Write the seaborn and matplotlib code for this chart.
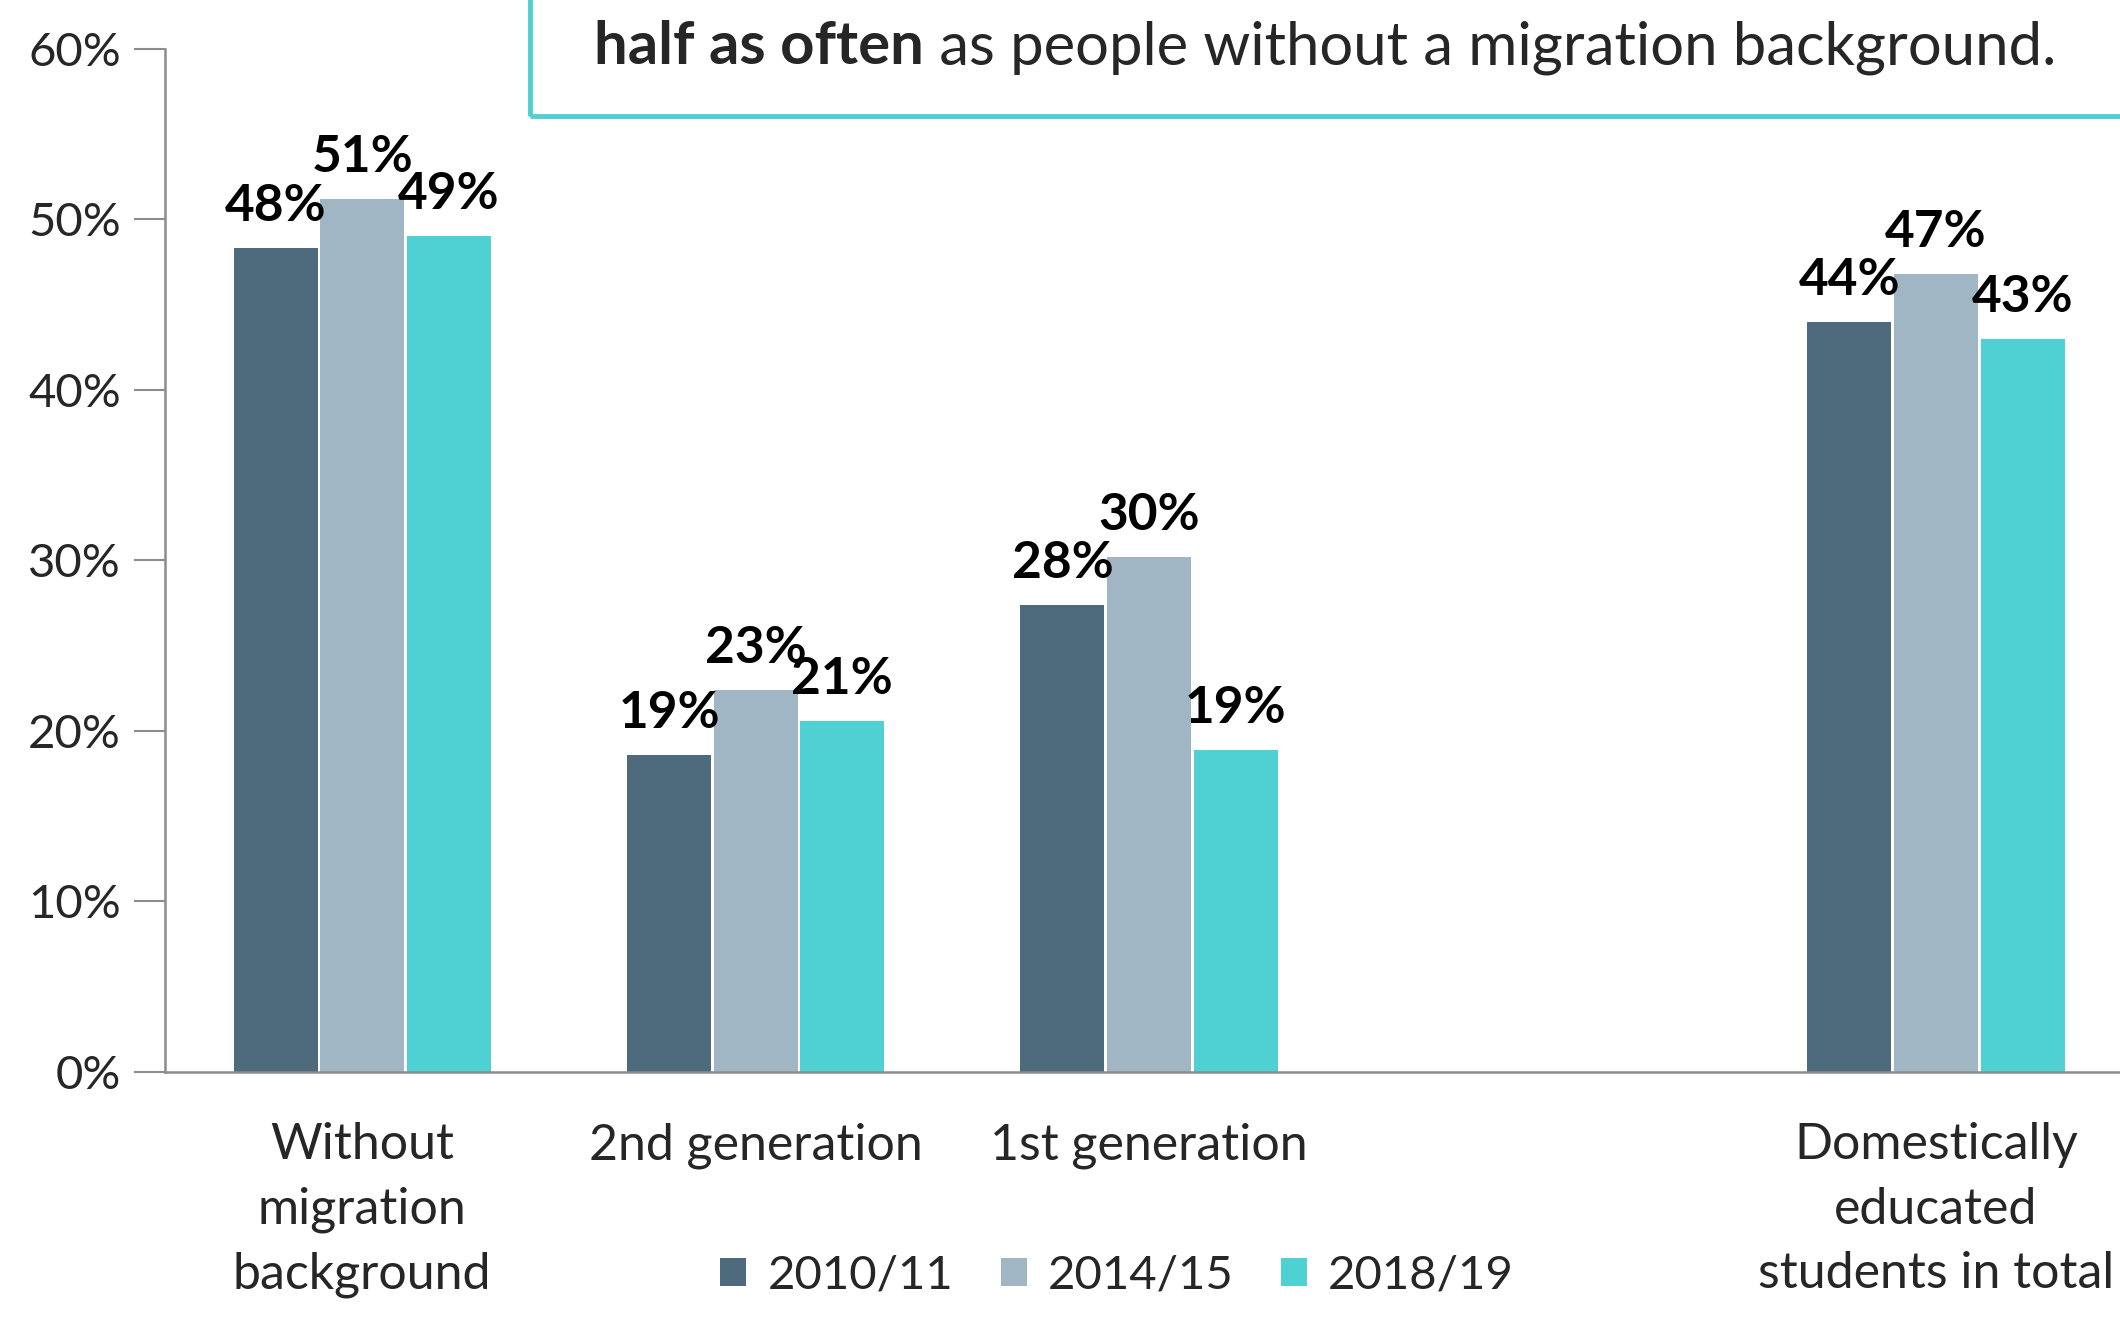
import matplotlib
matplotlib.use("Agg")
import matplotlib.pyplot as plt
import seaborn as sns
import pandas as pd
from matplotlib.patches import Rectangle

categories = ["Without\nmigration\nbackground", "2nd generation", "1st generation", " ", "Domestically\neducated\nstudents in total"]
years = ["2010/11", "2014/15", "2018/19"]
without_bg = [48.3, 51.2, 49.0]
second_gen = [18.6, 22.4, 20.6]
first_gen = [27.4, 30.2, 18.9]
domestic = [44.0, 46.8, 43.0]
labels_without = ["48%", "51%", "49%"]
labels_second = ["19%", "23%", "21%"]
labels_first = ["28%", "30%", "19%"]
labels_domestic = ["44%", "47%", "43%"]
colors = ["#4E6A7D", "#A1B6C4", "#4FD0D2"]

rows = []
for cat, vals, labs in [(categories[0], without_bg, labels_without),
                        (categories[1], second_gen, labels_second),
                        (categories[2], first_gen, labels_first),
                        (categories[4], domestic, labels_domestic)]:
    for y, v, l in zip(years, vals, labs):
        rows.append({"cat": cat, "year": y, "value": v, "label": l})
df = pd.DataFrame(rows)

sns.set_theme(style="white")
plt.rcParams["font.family"] = ["Lato", "DejaVu Sans"]

fig = plt.figure(figsize=(21.2, 13.17), dpi=100)
ax = fig.add_axes([0.078, 0.186, 0.928, 0.777])

sns.barplot(data=df, x="cat", y="value", hue="year", order=categories, hue_order=years,
            palette=colors, width=0.66, gap=0.03, ax=ax, legend=True, saturation=1,
            edgecolor="none")

# data labels
for container, year in zip(ax.containers, years):
    sub = df[df["year"] == year].set_index("cat")
    cats_present = [c for c in categories if c in sub.index]
    ax.bar_label(container, labels=[sub.loc[c, "label"] for c in cats_present],
                 padding=13, fontsize=37, fontweight="bold", color="black")

ax.set_ylim(0, 60)
ax.set_xlim(-0.5, 4.5)
ax.set_yticks(range(0, 61, 10))
ax.set_yticklabels([f"{v}%" for v in range(0, 61, 10)], fontsize=34)
ax.tick_params(axis="y", which="both", left=True, length=22, width=1.5, color="#8C8C8C", pad=10)
ax.tick_params(axis="x", bottom=False, labelsize=36, pad=30)
for lab in ax.get_xticklabels():
    lab.set_linespacing(1.5)
ax.set_xlabel("")
ax.set_ylabel("")
for s in ["top", "right"]:
    ax.spines[s].set_visible(False)
for s in ["left", "bottom"]:
    ax.spines[s].set_color("#8C8C8C")
    ax.spines[s].set_linewidth(1.8)
ax.grid(False)

leg = ax.get_legend()
handles, labs = ax.get_legend_handles_labels()
leg.remove()
fig.legend(handles, labs, loc="lower center", bbox_to_anchor=(0.527, -0.006), ncol=3, frameon=False,
           fontsize=34, handlelength=0.55, handleheight=0.55, handletextpad=0.45, columnspacing=1.0,
           borderpad=0.1)

# top annotation box
box = Rectangle((0.25, 0.912), 0.8, 0.2, transform=fig.transFigure, fill=False,
                edgecolor="#4FD0D2", linewidth=3.5, clip_on=False)
fig.patches.append(box)
fig.text(0.436, 0.964, "half as often", ha="right", va="center", fontsize=43, fontweight="bold")
fig.text(0.436, 0.964, " as people without a migration background.", ha="left", va="center", fontsize=43)

fig.savefig("out.png", dpi=100)
